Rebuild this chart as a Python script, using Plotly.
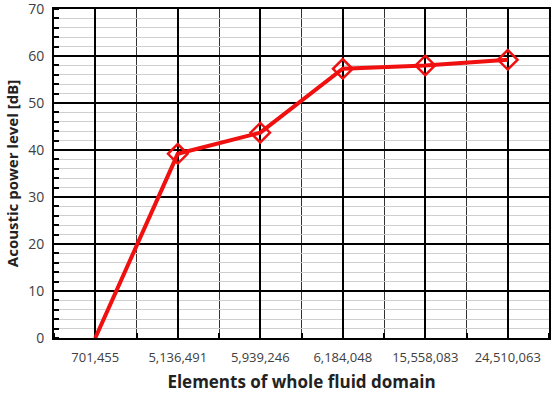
import plotly.graph_objects as go

categories = ["701,455", "5,136,491", "5,939,246", "6,184,048", "15,558,083", "24,510,063"]
power_db = [0.0, 39.2, 43.7, 57.3, 58.0, 59.2]
marker_shown = [False, True, True, True, True, True]
y_ticks = [0, 10, 20, 30, 40, 50, 60, 70]

x_idx = list(range(len(categories)))
red = "#f01010"

fig = go.Figure()
fig.add_trace(go.Scatter(
    x=x_idx, y=power_db, mode="lines",
    line=dict(color=red, width=4), showlegend=False, hoverinfo="skip"))
fig.add_trace(go.Scatter(
    x=[x for x, m in zip(x_idx, marker_shown) if m],
    y=[y for y, m in zip(power_db, marker_shown) if m],
    mode="markers",
    marker=dict(symbol="diamond-open", size=15, color=red, line=dict(width=2.5, color=red)),
    showlegend=False, hoverinfo="skip"))

font_fam = "Open Sans, Liberation Sans, sans-serif"
fig.update_layout(
    width=553, height=393,
    margin=dict(l=54, r=4, t=9, b=55),
    paper_bgcolor="white", plot_bgcolor="white",
    font=dict(family=font_fam, color="#404040"),
    xaxis=dict(
        range=[-0.5, 5.5], tickvals=x_idx, ticktext=categories,
        showgrid=True, gridcolor="black", gridwidth=2,
        ticks="", tickfont=dict(size=13, color="#404040"), ticklabelstandoff=6,
        showline=True, linecolor="black", linewidth=2, mirror=True,
        zeroline=False, automargin=False,
        minor=dict(tick0=0.5, dtick=1, showgrid=True, gridcolor="#333333", gridwidth=1,
                   ticks="inside", ticklen=5, tickcolor="black", tickwidth=2),
        title=dict(text="<b>Elements of whole fluid domain</b>", font=dict(size=17, color="#222222"), standoff=12),
    ),
    yaxis=dict(
        range=[0, 70.02], tickvals=y_ticks, ticktext=[str(v) for v in y_ticks],
        showgrid=True, gridcolor="black", gridwidth=2,
        ticks="", tickfont=dict(size=14, color="#404040"), ticklabelstandoff=5,
        ticklabeloverflow="allow",
        showline=True, linecolor="black", linewidth=2, mirror=True,
        zeroline=False, automargin=False,
        minor=dict(dtick=2, tick0=0, showgrid=True, gridcolor="#cfcfcf", gridwidth=1,
                   ticks="inside", ticklen=5, tickcolor="black", tickwidth=2),
        title=dict(text="<b>Acoustic power level [dB]</b>", font=dict(size=15, color="#222222"), standoff=6),
    ),
)

fig.write_html("out.html")
